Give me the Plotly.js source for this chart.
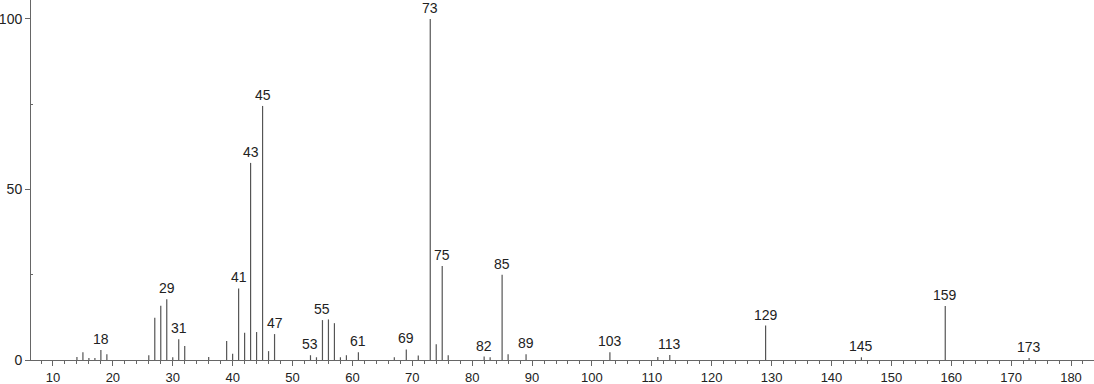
<!DOCTYPE html>
<html>
<head>
<meta charset="utf-8">
<script src="https://cdn.plot.ly/plotly-3.0.1.min.js"></script>
<style>html,body{margin:0;padding:0;background:#fff;}#chart{width:1094px;height:384px;}</style>
</head>
<body>
<div id="chart"></div>
<script>
const mz = [14,15,16,17,18,19,26,27,28,29,30,31,32,36,39,40,41,42,43,44,45,46,47,53,54,55,56,57,58,59,61,67,69,71,73,74,75,76,82,83,85,86,89,103,111,113,129,145,159,173];
const intensity = [0.9,2.3,0.6,0.6,2.9,1.7,1.4,12.4,15.9,17.8,0.8,6.1,4.1,0.9,5.6,1.8,21.0,8.0,57.8,8.2,74.5,2.6,7.6,1.4,0.8,11.7,11.9,10.8,0.8,1.4,2.3,0.8,3.1,1.3,100,4.6,27.6,1.4,1.0,0.8,25.0,1.7,1.7,2.3,0.9,1.5,10.1,0.8,15.8,0.6];
const labeledPeaks = [18,29,31,41,43,45,47,53,55,61,69,73,75,82,85,89,103,113,129,145,159,173];
const xTicks = [10,20,30,40,50,60,70,80,90,100,110,120,130,140,150,160,170,180];
const yTicks = [0,50,100];

const lx = [], ly = [];
mz.forEach((m, i) => { lx.push(m, m, null); ly.push(0, intensity[i], null); });

const annotations = labeledPeaks.map(m => ({
  x: m, y: intensity[mz.indexOf(m)], xref: 'x', yref: 'y',
  text: String(m), showarrow: false, yanchor: 'bottom', yshift: 1,
  font: {family: 'Liberation Sans, Arial, sans-serif', size: 14, color: '#222'}
}));

const trace = {
  x: lx, y: ly, type: 'scatter', mode: 'lines',
  line: {color: '#555', width: 1.2}, hoverinfo: 'skip', showlegend: false
};

const layout = {
  width: 1094, height: 384,
  margin: {l: 31, r: 0, t: 0, b: 24, pad: 0},
  paper_bgcolor: '#fff', plot_bgcolor: '#fff',
  font: {family: 'Liberation Sans, Arial, sans-serif', size: 14, color: '#222'},
  xaxis: {
    range: [6.33, 183.84], showgrid: false, zeroline: false,
    showline: true, linecolor: '#666', linewidth: 1,
    tickmode: 'array', tickvals: xTicks, ticktext: xTicks.map(String),
    ticks: 'outside', ticklen: 5, tickcolor: '#666', tickwidth: 1,
    minor: {dtick: 2, tick0: 0, ticks: 'outside', ticklen: 3, tickcolor: '#666', showgrid: false},
    tickfont: {size: 13, color: '#222'}, fixedrange: true
  },
  yaxis: {
    range: [0, 105.57], showgrid: false, zeroline: false,
    showline: true, linecolor: '#666', linewidth: 1,
    tickmode: 'array', tickvals: yTicks, ticktext: yTicks.map(String),
    ticks: 'outside', ticklen: 5, tickcolor: '#666', tickwidth: 1,
    minor: {tickvals: [25, 75], ticks: 'inside', ticklen: 2, tickcolor: '#666', showgrid: false},
    tickfont: {size: 14, color: '#222'}, fixedrange: true
  },
  annotations: annotations
};

Plotly.newPlot('chart', [trace], layout, {staticPlot: true, displayModeBar: false});
</script>
</body>
</html>
